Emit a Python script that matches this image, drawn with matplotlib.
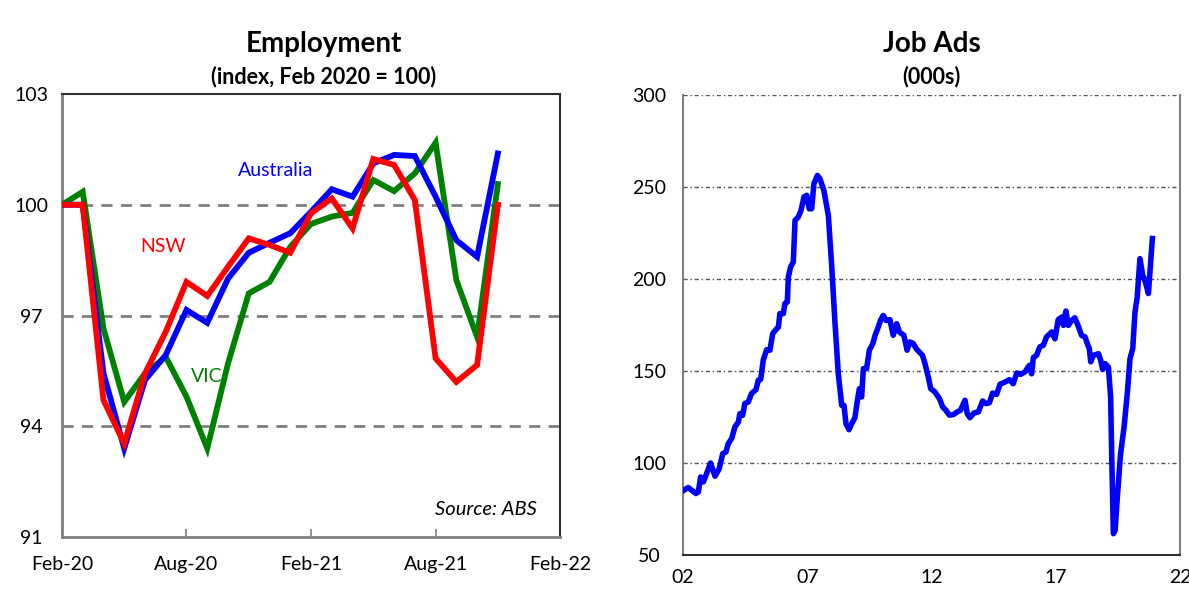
import matplotlib
matplotlib.use("Agg")
import matplotlib.pyplot as plt
import numpy as np

plt.rcParams['font.family'] = ['Lato', 'DejaVu Sans']

# Employment index, monthly from Feb-20 (month 0) to Nov-21
months = np.arange(22)
australia = [100.0, 100.0, 95.44, 93.4, 95.25, 95.93, 97.15, 96.8, 98.0, 98.7, 98.97,
             99.23, 99.81, 100.42, 100.22, 101.12, 101.35, 101.32, 100.22, 99.04, 98.59, 101.39]
nsw = [100.0, 100.0, 94.71, 93.53, 95.43, 96.56, 97.91, 97.53, 98.32, 99.09, 98.91,
       98.70, 99.77, 100.17, 99.36, 101.24, 101.08, 100.13, 95.84, 95.2, 95.66, 100.0]
vic = [100.0, 100.35, 96.65, 94.66, 95.43, 95.88, 94.8, 93.4, 95.7, 97.6, 97.91,
       98.86, 99.48, 99.68, 99.78, 100.67, 100.37, 100.85, 101.68, 97.96, 96.42, 100.56]
emp_ticks = [0, 6, 12, 18, 24]
emp_labels = ['Feb-20', 'Aug-20', 'Feb-21', 'Aug-21', 'Feb-22']

# Job ads (000s) as (year, value)
ads_year = [2002.04, 2002.21, 2002.35, 2002.52, 2002.62, 2002.71, 2002.82, 2002.95, 2003.11, 2003.29,
            2003.46, 2003.60, 2003.73, 2003.82, 2003.96, 2004.09, 2004.23, 2004.29, 2004.40, 2004.49,
            2004.63, 2004.76, 2004.94, 2005.03, 2005.13, 2005.23, 2005.37, 2005.50, 2005.61, 2005.74,
            2005.84, 2005.90, 2006.04, 2006.10, 2006.20, 2006.24, 2006.33, 2006.44, 2006.51, 2006.64,
            2006.75, 2006.87, 2006.98, 2007.08, 2007.18, 2007.27, 2007.41, 2007.51, 2007.67, 2007.85,
            2007.98, 2008.12, 2008.25, 2008.39, 2008.48, 2008.56, 2008.68, 2008.79, 2008.92, 2009.02,
            2009.10, 2009.19, 2009.26, 2009.39, 2009.50, 2009.64, 2009.73, 2009.86, 2009.96, 2010.06,
            2010.17, 2010.33, 2010.46, 2010.60, 2010.71, 2010.89, 2011.02, 2011.13, 2011.27, 2011.38,
            2011.51, 2011.64, 2011.74, 2011.87, 2011.97, 2012.14, 2012.32, 2012.45, 2012.58, 2012.72,
            2012.88, 2013.04, 2013.17, 2013.35, 2013.44, 2013.55, 2013.71, 2013.89, 2014.06, 2014.19,
            2014.33, 2014.46, 2014.62, 2014.76, 2014.96, 2015.13, 2015.29, 2015.43, 2015.59, 2015.76,
            2015.94, 2016.03, 2016.10, 2016.23, 2016.36, 2016.50, 2016.63, 2016.84, 2016.97, 2017.10,
            2017.24, 2017.31, 2017.41, 2017.51, 2017.64, 2017.77, 2017.91, 2018.04, 2018.18, 2018.27,
            2018.35, 2018.41, 2018.51, 2018.72, 2018.81, 2018.89, 2018.99, 2019.12, 2019.21, 2019.26,
            2019.32, 2019.39, 2019.48, 2019.61, 2019.75, 2019.88, 2019.99, 2020.10, 2020.19, 2020.28,
            2020.39, 2020.50, 2020.59, 2020.73, 2020.89]
ads_value = [85.2, 86.7, 85.2, 83.4, 84.3, 92.4, 89.7, 94.2, 100.0, 92.8,
             96.9, 105.1, 106.0, 110.5, 113.3, 119.6, 122.3, 126.8, 125.9, 132.3,
             133.2, 137.8, 139.9, 145.0, 145.5, 155.9, 161.6, 161.3, 170.3, 172.5,
             173.9, 181.2, 181.2, 186.6, 187.5, 201.1, 206.5, 209.3, 231.9, 233.7,
             237.3, 244.6, 245.5, 238.2, 238.2, 251.8, 256.3, 254.5, 248.2, 234.6,
             208.3, 175.7, 148.5, 131.3, 131.3, 121.4, 118.1, 121.4, 124.6, 134.1,
             140.4, 135.9, 151.3, 151.3, 161.3, 164.9, 169.4, 173.9, 177.9, 180.2,
             177.5, 177.9, 169.4, 175.7, 171.2, 169.4, 161.3, 165.8, 164.9, 162.2,
             160.3, 158.5, 154.0, 146.8, 140.4, 138.6, 135.0, 130.5, 128.7, 126.0,
             126.3, 127.8, 128.7, 134.1, 126.8, 124.6, 127.2, 127.8, 133.7, 132.3,
             132.7, 138.0, 137.3, 142.8, 144.0, 145.3, 143.1, 148.9, 148.2, 149.5,
             153.1, 148.5, 157.3, 158.5, 163.1, 164.0, 168.5, 171.2, 167.5, 177.9,
             179.3, 174.8, 182.6, 174.8, 177.5, 178.9, 174.3, 169.4, 168.5, 164.9,
             162.2, 155.0, 158.5, 159.4, 155.8, 150.8, 154.0, 152.1, 135.9, 99.7,
             61.6, 63.4, 81.5, 105.0, 119.5, 137.7, 156.7, 162.2, 182.1, 190.2,
             211.1, 202.0, 199.3, 192.1, 222.0]
ads_ticks = [2002, 2007, 2012, 2017, 2022]
ads_labels = ['02', '07', '12', '17', '22']

fig = plt.figure(figsize=(11.89, 5.92), dpi=100)

# ---- Employment
ax1 = fig.add_axes([0.0521, 0.0929, 0.4190, 0.7483])
ax1.plot(months, vic, color='#008000', lw=4.2, solid_joinstyle='miter', zorder=3)
ax1.plot(months, australia, color='#0000ff', lw=4.2, solid_joinstyle='miter', zorder=4)
ax1.plot(months, nsw, color='#ff0000', lw=4.2, solid_joinstyle='miter', zorder=5)
for v in [94, 97, 100]:
    ax1.axhline(v, color='#808080', lw=2, ls=(0, (4, 3)), zorder=1)
ax1.set_xlim(0, 24)
ax1.set_ylim(91, 103)
ax1.set_yticks([91, 94, 97, 100, 103])
ax1.set_xticks(emp_ticks)
ax1.set_xticklabels(emp_labels)
ax1.tick_params(axis='y', length=0, pad=22, labelsize=14)
ax1.tick_params(axis='x', direction='in', length=6, width=1.2, color='#808080', pad=14, labelsize=14)
for lab in ax1.get_yticklabels():
    lab.set_horizontalalignment('center')
for s in ['left', 'bottom']:
    ax1.spines[s].set_color('#808080')
    ax1.spines[s].set_linewidth(2)
for s in ['top', 'right']:
    ax1.spines[s].set_color('#303030')
    ax1.spines[s].set_linewidth(1.5)
ax1.text(10.3, 100.94, 'Australia', color='#0000ff', fontsize=14, ha='center', va='center')
ax1.text(4.85, 98.88, 'NSW', color='#ff0000', fontsize=14, ha='center', va='center')
ax1.text(6.95, 95.36, 'VIC', color='#008000', fontsize=14, ha='center', va='center')
ax1.text(22.9, 91.75, 'Source: ABS', fontsize=14.5, style='italic', ha='right', va='center')
fig.text(0.2725, 0.925, 'Employment', fontsize=20, fontweight='bold', ha='center', va='center')
fig.text(0.2725, 0.871, '(index, Feb 2020 = 100)', fontsize=15.5, fontweight='bold', ha='center', va='center')

# ---- Job ads
ax2 = fig.add_axes([0.5744, 0.0625, 0.4180, 0.7770])
ax2.plot(ads_year, ads_value, color='#0000ff', lw=4, solid_joinstyle='round', zorder=3)
for v in [100, 150, 200, 250, 300]:
    ax2.axhline(v, color='#555555', lw=1, ls=(0, (3, 2, 1, 2)), zorder=1)
ax2.set_xlim(2002, 2022)
ax2.set_ylim(50, 300)
ax2.set_yticks([50, 100, 150, 200, 250, 300])
ax2.set_xticks(ads_ticks)
ax2.set_xticklabels(ads_labels)
ax2.tick_params(axis='both', length=0, labelsize=14)
ax2.tick_params(axis='y', pad=24)
ax2.tick_params(axis='x', pad=10)
for lab in ax2.get_yticklabels():
    lab.set_horizontalalignment('center')
ax2.spines['top'].set_visible(False)
for s in ['left', 'right']:
    ax2.spines[s].set_color('#808080')
    ax2.spines[s].set_linewidth(1.5)
ax2.spines['bottom'].set_color('#303030')
ax2.spines['bottom'].set_linewidth(1.5)
fig.text(0.7834, 0.925, 'Job Ads', fontsize=20, fontweight='bold', ha='center', va='center')
fig.text(0.7834, 0.871, '(000s)', fontsize=15.5, fontweight='bold', ha='center', va='center')

fig.savefig('out.png', dpi=100)
